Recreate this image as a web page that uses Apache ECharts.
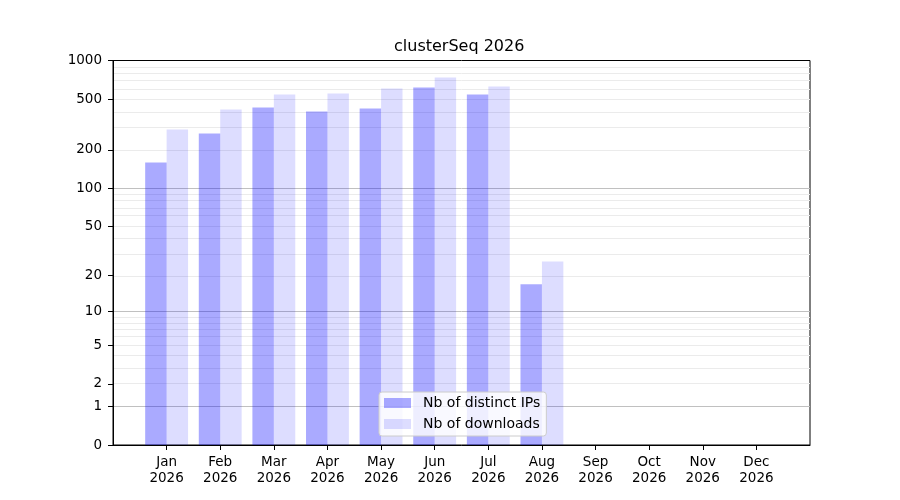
<!DOCTYPE html>
<html>
<head>
<meta charset="utf-8">
<script src="https://cdn.jsdelivr.net/npm/echarts@6/dist/echarts.min.js"></script>
<style>html,body{margin:0;padding:0;background:#fff}#c{width:900px;height:500px}</style>
</head>
<body>
<div id="c"></div>
<script>
const months = ['Jan', 'Feb', 'Mar', 'Apr', 'May', 'Jun', 'Jul', 'Aug', 'Sep', 'Oct', 'Nov', 'Dec'];
const year = '2026';
const distinctIPs = [159, 269, 429, 399, 421, 615, 542, 17, 0, 0, 0, 0];
const downloads = [289, 414, 542, 552, 604, 736, 626, 26, 0, 0, 0, 0];
const yTickLabels = [0, 1, 2, 5, 10, 20, 50, 100, 200, 500, 1000];
const majorGrid = [1, 10, 100];
const minorGrid = [2, 3, 4, 5, 6, 7, 8, 9, 20, 30, 40, 50, 60, 70, 80, 90, 200, 300, 400, 500, 600, 700, 800, 900];

const f = v => Math.log10(1 + v);
const FONT = 'DejaVu Sans';

const cats = [''].concat(months.map(m => m + '\n' + year)).concat(['']);
const pad = arr => [null].concat(arr.map(f)).concat([null]);

const gridLines = majorGrid.map(v => ({ yAxis: f(v), lineStyle: { color: '#c0c0c0', width: 1, type: 'solid' } }))
  .concat(minorGrid.map(v => ({ yAxis: f(v), lineStyle: { color: '#ebebeb', width: 1, type: 'solid' } })));

const chart = echarts.init(document.getElementById('c'), null, { renderer: 'canvas' });
chart.setOption({
  animation: false,
  textStyle: { fontFamily: FONT },
  title: {
    text: 'clusterSeq 2026',
    left: 394, top: 39, padding: 0,
    textStyle: { fontFamily: FONT, fontSize: 16, fontWeight: 'normal', color: '#000' }
  },
  grid: { left: 113, right: 90, top: 60.5, bottom: 55, show: true, borderColor: '#000', borderWidth: 1, backgroundColor: 'transparent' },
  legend: {
    orient: 'vertical',
    left: 379, top: 392,
    padding: [4, 6, 5, 5],
    itemGap: 7,
    itemWidth: 27, itemHeight: 10,
    icon: 'rect',
    backgroundColor: 'rgba(255,255,255,0.8)',
    borderColor: '#cccccc', borderWidth: 1, borderRadius: 3,
    textStyle: { fontFamily: FONT, fontSize: 14, color: '#000', lineHeight: 14, padding: [0, 0, 0, 7] },
    data: ['Nb of distinct IPs', 'Nb of downloads']
  },
  xAxis: {
    type: 'category',
    data: cats,
    boundaryGap: false,
    axisLine: { show: true, lineStyle: { color: '#000', width: 1 } },
    axisTick: { show: true, length: 5, inside: false, lineStyle: { color: '#000' }, interval: (i, v) => v !== '' },
    axisLabel: { color: '#000', fontFamily: FONT, fontSize: 13.5, lineHeight: 16, margin: 9, interval: 0 },
    splitLine: { show: false }
  },
  yAxis: {
    type: 'value',
    min: 0, max: f(1000.2),
    axisLine: { show: true, lineStyle: { color: '#000', width: 1 } },
    axisTick: { show: true, length: 5, inside: false, lineStyle: { color: '#000' }, customValues: yTickLabels.map(f) },
    axisLabel: {
      color: '#000', fontFamily: FONT, fontSize: 13.5, margin: 11,
      customValues: yTickLabels.map(f),
      formatter: v => String(Math.round(Math.pow(10, v) - 1))
    },
    splitLine: { show: false }
  },
  series: [
    {
      type: 'line', data: [], silent: true, z: 0,
      markLine: { silent: true, z: 0, symbol: 'none', label: { show: false }, animation: false, data: gridLines }
    },
    {
      name: 'Nb of distinct IPs', type: 'bar', data: pad(distinctIPs),
      barWidth: '40%', barGap: '0%', z: 2,
      itemStyle: { color: 'rgba(0,0,255,0.333)' }
    },
    {
      name: 'Nb of downloads', type: 'bar', data: pad(downloads),
      barWidth: '40%', barGap: '0%', z: 2,
      itemStyle: { color: 'rgba(0,0,255,0.133)' }
    }
  ]
});
</script>
</body>
</html>
